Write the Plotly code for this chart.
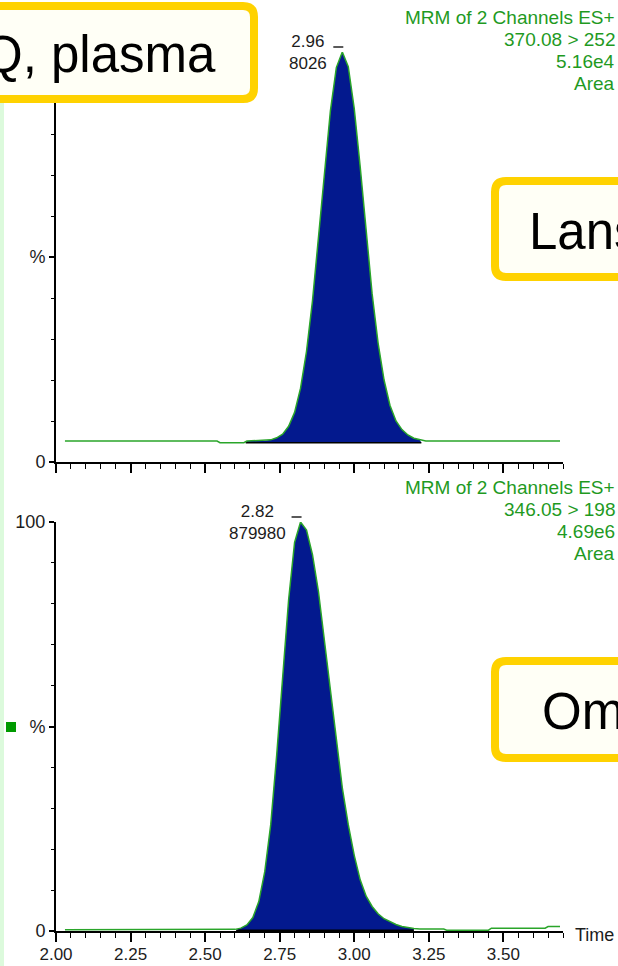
import plotly.graph_objects as go

# ---------------- data ----------------
# Upper trace: Lansoprazole channel, relative intensity (%) vs retention time (min)
lans_time = [2.03, 2.54, 2.55, 2.63, 2.64, 2.70, 2.72, 2.74, 2.76, 2.78, 2.80, 2.82, 2.84,
             2.86, 2.88, 2.90, 2.92, 2.94, 2.96, 2.98, 3.00, 3.02, 3.04, 3.06, 3.08, 3.10,
             3.12, 3.14, 3.16, 3.18, 3.20, 3.22, 3.24, 3.26, 3.69]
lans_pct = [5.1, 5.1, 4.7, 4.7, 5.1, 5.2, 5.4, 5.9, 6.8, 8.7, 12.1, 18.0, 27.0,
            39.3, 54.4, 70.8, 85.6, 96.2, 100.0, 96.4, 86.2, 72.0, 56.0, 41.0, 29.0, 20.0,
            13.8, 10.0, 7.9, 6.6, 5.8, 5.4, 5.1, 5.1, 5.1]
lans_integration = [2.636, 3.225]
lans_integration_level = 4.7

# Lower trace: Omeprazole channel
om_time = [2.03, 2.58, 2.60, 2.62, 2.64, 2.66, 2.68, 2.70, 2.72, 2.74, 2.76, 2.78, 2.80,
           2.82, 2.84, 2.86, 2.88, 2.90, 2.92, 2.94, 2.96, 2.98, 3.00, 3.02, 3.04, 3.06,
           3.08, 3.10, 3.12, 3.14, 3.16, 3.18, 3.20, 3.22, 3.30, 3.31, 3.45, 3.46, 3.64,
           3.65, 3.69]
om_pct = [0.3, 0.3, 0.4, 0.7, 1.5, 3.3, 7.2, 14.5, 26.0, 43.0, 62.6, 81.0, 95.0,
          100.0, 98.0, 92.0, 83.0, 71.0, 58.5, 46.0, 35.0, 26.0, 18.5, 12.5, 8.5, 6.0,
          4.2, 3.0, 2.2, 1.6, 1.1, 0.8, 0.6, 0.5, 0.5, 0.2, 0.2, 0.7, 0.7,
          1.1, 1.1]
om_integration = [2.604, 3.20]
om_integration_level = 0.2

peak_rt_labels = ["2.96", "2.82"]
peak_rt = [2.96, 2.82]
peak_intensity_labels = ["8026", "879980"]
header_top = ["MRM of 2 Channels ES+", "370.08 > 252", "5.16e4", "Area"]
header_bottom = ["MRM of 2 Channels ES+", "346.05 > 198", "4.69e6", "Area"]
x_tick_vals = [2.00, 2.25, 2.50, 2.75, 3.00, 3.25, 3.50]
x_tick_text = ["2.00", "2.25", "2.50", "2.75", "3.00", "3.25", "3.50"]
y_tick_vals = [0, 50, 100]
y_tick_text_top = ["0", "%", ""]          # the top "100" is hidden under the callout box
y_tick_text_bottom = ["0", "%", "100"]
callout_texts = ["Q, plasma", "Lans", "Om"]
x_title = "Time"

# ---------------- styling / geometry ----------------
W, H = 618, 966
ML, MR, MT, MB = 56, 55, 52, 35
PW = W - ML - MR
PH = H - MT - MB
X_RANGE = [2.0, 3.7]
TOP_PX = (52, 462)      # top panel (100%, 0%) pixel rows
BOT_PX = (522, 931)

FONT = "Liberation Sans, Arial, Helvetica, sans-serif"
NAVY = "#03198e"
GREEN_LINE = "#2aa52a"
GREEN_TEXT = "#1f9a1f"
GOLD = "#ffd200"
IVORY = "#fffff6"
DARK = "#1c1c1c"


def px_x(p):
    return (p - ML) / PW


def px_y(p):
    return (H - MB - p) / PH


def data_to_px_x(t):
    return ML + (t - X_RANGE[0]) / (X_RANGE[1] - X_RANGE[0]) * PW


top_domain = [px_y(TOP_PX[1]), px_y(TOP_PX[0])]
bot_domain = [px_y(BOT_PX[1]), px_y(BOT_PX[0])]

fig = go.Figure()


def add_chromatogram(times, pct, integ, level, xa, ya):
    sel = [(t, v) for t, v in zip(times, pct) if integ[0] <= t <= integ[1]]
    fx = [integ[0]] + [s[0] for s in sel] + [integ[1]]
    fy = [level] + [s[1] for s in sel] + [level]
    fig.add_trace(go.Scatter(x=fx, y=fy, mode="lines", fill="toself", fillcolor=NAVY,
                             line=dict(width=0, color=NAVY), xaxis=xa, yaxis=ya,
                             hoverinfo="skip"))
    fig.add_trace(go.Scatter(x=integ, y=[level, level], mode="lines",
                             line=dict(width=1.6, color="black"), xaxis=xa, yaxis=ya,
                             hoverinfo="skip"))
    fig.add_trace(go.Scatter(x=times, y=pct, mode="lines",
                             line=dict(width=1.5, color=GREEN_LINE), xaxis=xa, yaxis=ya))


add_chromatogram(lans_time, lans_pct, lans_integration, lans_integration_level, "x", "y")
add_chromatogram(om_time, om_pct, om_integration, om_integration_level, "x2", "y2")

common_x = dict(range=X_RANGE, showgrid=False, zeroline=False, showline=True,
                linecolor="black", linewidth=2, ticks="outside", ticklen=9, tickwidth=1.5,
                tickcolor="black", tickmode="array", tickvals=x_tick_vals,
                automargin=False,
                minor=dict(tickmode="linear", tick0=2.0, dtick=0.05, ticks="outside",
                           ticklen=5, tickwidth=1.2, tickcolor="black", showgrid=False),
                tickfont=dict(family=FONT, size=17, color=DARK), fixedrange=True)
common_y = dict(range=[0, 100], showgrid=False, zeroline=False, showline=True,
                linecolor="black", linewidth=2, ticks="outside", ticklen=5, tickwidth=1.5,
                tickcolor="black", tickmode="array", tickvals=y_tick_vals,
                automargin=False,
                minor=dict(tickmode="linear", tick0=0, dtick=10, ticks="outside",
                           ticklen=3, tickwidth=1.2, tickcolor="black", showgrid=False),
                tickfont=dict(family=FONT, size=18, color=DARK), fixedrange=True)

fig.update_layout(
    width=W, height=H, margin=dict(l=ML, r=MR, t=MT, b=MB, pad=0, autoexpand=False),
    paper_bgcolor="white", plot_bgcolor="rgba(0,0,0,0)", showlegend=False,
    font=dict(family=FONT, size=18, color=DARK),
    xaxis=dict(common_x, anchor="y", domain=[0, 1], showticklabels=False),
    yaxis=dict(common_y, anchor="x", domain=top_domain, ticktext=y_tick_text_top),
    xaxis2=dict(common_x, anchor="y2", domain=[0, 1], ticktext=x_tick_text,
                ticklabelstandoff=-2),
    yaxis2=dict(common_y, anchor="x2", domain=bot_domain, ticktext=y_tick_text_bottom),
)

shapes = []
annotations = []


def rounded_box(x0p, y0p, x1p, y1p, r=11):
    x0, x1 = px_x(x0p), px_x(x1p)
    y0, y1 = px_y(y0p), px_y(y1p)   # y0 top, y1 bottom (paper)
    rx, ry = r / PW, r / PH
    path = (f"M {x0+rx},{y0} L {x1-rx},{y0} Q {x1},{y0} {x1},{y0-ry} "
            f"L {x1},{y1+ry} Q {x1},{y1} {x1-rx},{y1} L {x0+rx},{y1} "
            f"Q {x0},{y1} {x0},{y1+ry} L {x0},{y0-ry} Q {x0},{y0} {x0+rx},{y0} Z")
    return dict(type="path", xref="paper", yref="paper", path=path,
                fillcolor=IVORY, line=dict(color=GOLD, width=8), layer="above")


# light green strip on the far left and the green legend square
shapes.append(dict(type="rect", xref="paper", yref="paper", x0=px_x(0), x1=px_x(4),
                   y0=px_y(966), y1=px_y(100), fillcolor="#dcfadc", line=dict(width=0),
                   layer="below"))
shapes.append(dict(type="rect", xref="paper", yref="paper", x0=px_x(6), x1=px_x(16),
                   y0=px_y(732), y1=px_y(722), fillcolor="#009a00", line=dict(width=0)))

# callout boxes
shapes.append(rounded_box(-30, 6, 254, 99))
shapes.append(rounded_box(495, 181, 660, 277))
shapes.append(rounded_box(495, 661, 660, 758))

annotations.append(dict(xref="paper", yref="paper", x=px_x(218), y=px_y(54),
                        xanchor="right", yanchor="middle", showarrow=False,
                        text=callout_texts[0], font=dict(family=FONT, size=51, color="black")))
annotations.append(dict(xref="paper", yref="paper", x=px_x(527), y=px_y(231),
                        xanchor="left", yanchor="middle", showarrow=False,
                        text=callout_texts[1], font=dict(family=FONT, size=51, color="black")))
annotations.append(dict(xref="paper", yref="paper", x=px_x(540), y=px_y(711),
                        xanchor="left", yanchor="middle", showarrow=False,
                        text=callout_texts[2], font=dict(family=FONT, size=51, color="black")))

# headers (green, right aligned)
for lines, top_px in ((header_top, TOP_PX[0]), (header_bottom, BOT_PX[0])):
    for i, line in enumerate(lines):
        annotations.append(dict(xref="paper", yref="paper", x=px_x(617),
                                y=px_y(top_px - 35 + 22 * i), xanchor="right",
                                yanchor="middle", showarrow=False, text=line,
                                font=dict(family=FONT, size=19, color=GREEN_TEXT)))

# peak labels and apex dashes
for k, (xa, ya, top_px) in enumerate((("x", "y", TOP_PX[0]), ("x2", "y2", BOT_PX[0]))):
    annotations.append(dict(xref=xa, yref=ya, x=peak_rt[k], y=100, xanchor="right",
                            yanchor="middle", xshift=-13, yshift=0, showarrow=False,
                            align="center",
                            text=f"{peak_rt_labels[k]}<br>{peak_intensity_labels[k]}",
                            font=dict(family=FONT, size=17, color=DARK)))
    ax = data_to_px_x(peak_rt[k])
    shapes.append(dict(type="line", xref="paper", yref="paper", x0=px_x(ax - 9),
                       x1=px_x(ax + 1), y0=px_y(top_px - 5), y1=px_y(top_px - 5),
                       line=dict(color="black", width=1.3)))

annotations.append(dict(xref="paper", yref="paper", x=px_x(573), y=px_y(935),
                        xanchor="left", yanchor="middle", showarrow=False, text=x_title,
                        font=dict(family=FONT, size=18, color=DARK)))

fig.update_layout(shapes=shapes, annotations=annotations)

fig.write_html("out.html", config={"displayModeBar": False},
               post_script="document.body.style.margin='0';")
